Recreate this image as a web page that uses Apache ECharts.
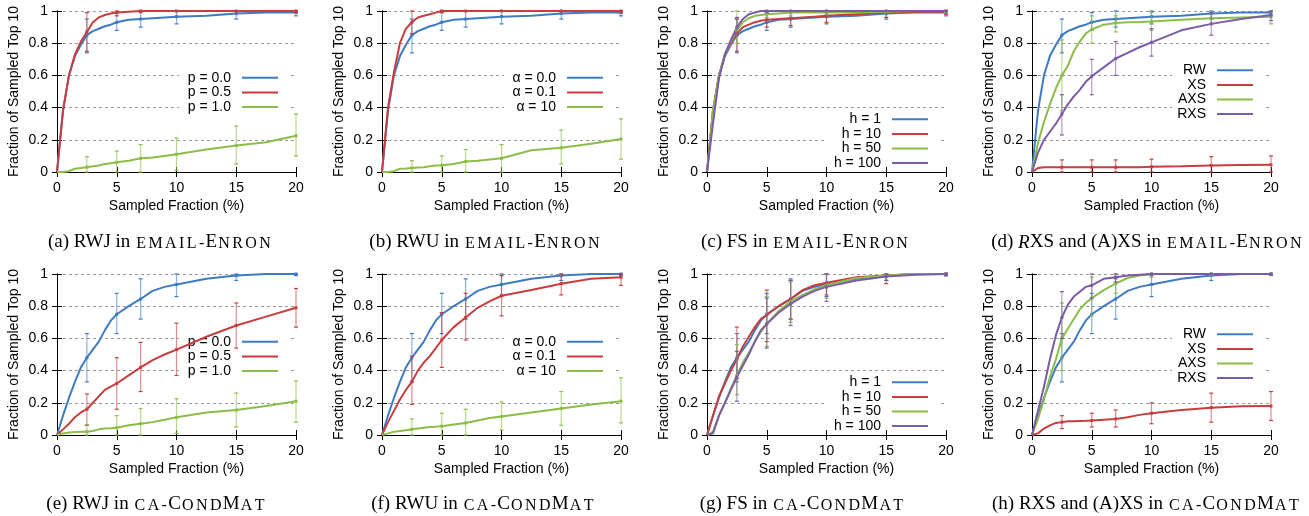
<!DOCTYPE html>
<html>
<head>
<meta charset="utf-8">
<script src="https://cdn.jsdelivr.net/npm/echarts@6/dist/echarts.min.js"></script>
<style>
  html, body { margin: 0; background: #fff; }
  #main { width: 1309px; height: 516px; }
</style>
</head>
<body>
<div id="main"></div>
<script>
// sampled fraction (%) where each curve is measured
const xs = [0, 0.5, 1, 1.5, 2, 2.5, 3, 3.5, 4, 4.5, 5, 6, 7, 8, 9, 10, 12.5, 15, 17.5, 20]
// x positions of the error bars
const errX = [2.5, 5, 7, 10, 15, 20]
const yTicks = [0, 0.2, 0.4, 0.6, 0.8, 1]

// email-Enron
const enronRW = [0, 0.38, 0.6, 0.72, 0.79, 0.85, 0.875, 0.89, 0.905, 0.915, 0.93, 0.945, 0.95, 0.955, 0.96, 0.965, 0.97, 0.985, 0.99, 0.99]
const enronRWErr = [[0.74, 0.95], [0.88, 0.99], [0.9, 1], [0.92, 1], [0.95, 1], [0.97, 1]]
const enronRWJ05 = [0, 0.38, 0.6, 0.73, 0.81, 0.87, 0.93, 0.96, 0.975, 0.985, 0.99, 0.995, 1, 1, 1, 1, 1, 1, 1, 1]
const enronRWJ05Err = [[0.75, 0.99], [0.97, 1], [0.99, 1], [1, 1], [1, 1], [0.99, 1]]
const enronRWJ10 = [0, 0, 0.005, 0.02, 0.025, 0.03, 0.035, 0.04, 0.05, 0.055, 0.06, 0.07, 0.085, 0.09, 0.1, 0.11, 0.14, 0.165, 0.185, 0.225]
const enronRWJ10Err = [[0, 0.095], [0, 0.13], [0, 0.17], [0.01, 0.21], [0.05, 0.285], [0.1, 0.36]]
const enronRWU01 = [0, 0.4, 0.62, 0.8, 0.89, 0.93, 0.96, 0.97, 0.98, 0.99, 1, 1, 1, 1, 1, 1, 1, 1, 1, 1]
const enronRWU01Err = [[0.86, 1], [0.99, 1], [1, 1], [1, 1], [1, 1], [0.99, 1]]
const enronRWU10 = [0, 0, 0.005, 0.02, 0.022, 0.025, 0.028, 0.03, 0.035, 0.04, 0.042, 0.05, 0.065, 0.07, 0.078, 0.085, 0.135, 0.15, 0.175, 0.205]
const enronRWU10Err = [[0, 0.07], [0, 0.1], [0, 0.14], [0, 0.17], [0.05, 0.26], [0.08, 0.33]]
const enronFS10 = [0, 0.38, 0.6, 0.73, 0.8, 0.86, 0.9, 0.915, 0.93, 0.94, 0.945, 0.95, 0.955, 0.96, 0.965, 0.97, 0.98, 0.99, 0.995, 0.995]
const enronFS10Err = [[0.75, 0.95], [0.9, 1], [0.91, 1], [0.93, 1], [0.96, 1], [0.98, 1]]
const enronFS50 = [0, 0.38, 0.6, 0.73, 0.81, 0.88, 0.93, 0.955, 0.97, 0.975, 0.98, 0.985, 0.99, 0.99, 0.99, 0.99, 0.99, 0.995, 1, 1]
const enronFS50Err = [[0.8, 1], [0.96, 1], [0.97, 1], [0.98, 1], [0.99, 1], [0.99, 1]]
const enronFS100 = [0, 0.3, 0.58, 0.73, 0.82, 0.9, 0.95, 0.98, 0.99, 1, 1, 1, 1, 1, 1, 1, 1, 1, 1, 1]
const enronFS100Err = [[0.85, 0.96], [0.99, 1], [1, 1], [1, 1], [1, 1], [1, 1]]
const enronXS = [0, 0.025, 0.03, 0.03, 0.03, 0.03, 0.03, 0.03, 0.03, 0.03, 0.03, 0.03, 0.03, 0.03, 0.03, 0.032, 0.035, 0.04, 0.043, 0.045]
const enronXSErr = [[0, 0.075], [0, 0.075], [0, 0.075], [0, 0.08], [0, 0.095], [0, 0.1]]
const enronAXS = [0, 0.18, 0.31, 0.42, 0.52, 0.6, 0.66, 0.75, 0.81, 0.86, 0.885, 0.915, 0.925, 0.93, 0.932, 0.935, 0.945, 0.955, 0.96, 0.965]
const enronAXSErr = [[0.38, 0.82], [0.8, 0.97], [0.87, 0.97], [0.88, 0.99], [0.92, 0.99], [0.92, 1]]
const enronRXS = [0, 0.12, 0.2, 0.25, 0.3, 0.36, 0.42, 0.47, 0.51, 0.56, 0.595, 0.65, 0.705, 0.74, 0.775, 0.805, 0.88, 0.92, 0.95, 0.975]
const enronRXSErr = [[0.23, 0.48], [0.48, 0.7], [0.6, 0.81], [0.72, 0.89], [0.85, 0.99], [0.94, 1]]

// ca-CondMat
const condRW = [0, 0.12, 0.23, 0.33, 0.42, 0.48, 0.53, 0.58, 0.65, 0.71, 0.75, 0.8, 0.845, 0.895, 0.92, 0.935, 0.97, 0.99, 1, 1]
const condRWErr = [[0.33, 0.63], [0.63, 0.88], [0.72, 0.97], [0.86, 1], [0.96, 1], [0.99, 1]]
const condRWJ05 = [0, 0.035, 0.07, 0.11, 0.14, 0.16, 0.2, 0.24, 0.28, 0.3, 0.32, 0.37, 0.42, 0.465, 0.5, 0.53, 0.61, 0.68, 0.735, 0.79]
const condRWJ05Err = [[0.06, 0.255], [0.16, 0.48], [0.27, 0.575], [0.37, 0.695], [0.54, 0.82], [0.67, 0.91]]
const condRWJ10 = [0, 0.01, 0.015, 0.018, 0.02, 0.02, 0.025, 0.035, 0.04, 0.042, 0.045, 0.06, 0.07, 0.08, 0.095, 0.11, 0.14, 0.155, 0.18, 0.21]
const condRWJ10Err = [[0, 0.065], [0, 0.12], [0, 0.165], [0.01, 0.225], [0.05, 0.26], [0.08, 0.335]]
const condRWU01 = [0, 0.08, 0.15, 0.22, 0.28, 0.33, 0.4, 0.45, 0.49, 0.54, 0.59, 0.67, 0.73, 0.79, 0.83, 0.865, 0.9, 0.94, 0.97, 0.98]
const condRWU01Err = [[0.19, 0.49], [0.42, 0.76], [0.59, 0.88], [0.74, 0.99], [0.87, 1], [0.93, 1]]
const condRWU10 = [0, 0.01, 0.02, 0.025, 0.03, 0.035, 0.04, 0.045, 0.05, 0.052, 0.055, 0.065, 0.075, 0.09, 0.105, 0.115, 0.14, 0.165, 0.19, 0.21]
const condRWU10Err = [[0, 0.1], [0, 0.135], [0, 0.16], [0.03, 0.205], [0.06, 0.27], [0.075, 0.355]]
const condFS10 = [0, 0.12, 0.24, 0.32, 0.4, 0.47, 0.55, 0.61, 0.67, 0.72, 0.745, 0.8, 0.845, 0.9, 0.93, 0.945, 0.98, 0.99, 1, 1]
const condFS10Err = [[0.35, 0.67], [0.58, 0.9], [0.72, 0.96], [0.87, 1], [0.94, 1], [0.99, 1]]
const condFS50 = [0, 0.02, 0.12, 0.2, 0.29, 0.37, 0.45, 0.51, 0.58, 0.64, 0.69, 0.77, 0.83, 0.87, 0.905, 0.93, 0.975, 0.99, 1, 1]
const condFS50Err = [[0.25, 0.56], [0.55, 0.86], [0.7, 0.95], [0.85, 1], [0.96, 1], [0.99, 1]]
const condFS100 = [0, 0.01, 0.12, 0.2, 0.28, 0.36, 0.43, 0.5, 0.58, 0.65, 0.69, 0.76, 0.815, 0.86, 0.895, 0.92, 0.96, 0.985, 0.995, 1]
const condFS100Err = [[0.21, 0.52], [0.54, 0.85], [0.68, 0.96], [0.83, 1], [0.96, 1], [0.99, 1]]
const condXS = [0, 0.01, 0.04, 0.06, 0.075, 0.08, 0.085, 0.085, 0.087, 0.088, 0.09, 0.095, 0.1, 0.11, 0.125, 0.135, 0.155, 0.17, 0.178, 0.18]
const condXSErr = [[0.04, 0.12], [0.05, 0.135], [0.05, 0.155], [0.07, 0.2], [0.08, 0.26], [0.09, 0.27]]
const condAXS = [0, 0.1, 0.22, 0.36, 0.47, 0.6, 0.66, 0.72, 0.78, 0.82, 0.85, 0.9, 0.94, 0.975, 0.99, 1, 1, 1, 1, 1]
const condAXSErr = [[0.4, 0.82], [0.74, 0.98], [0.88, 1], [0.98, 1], [0.99, 1], [1, 1]]
const condRXS = [0, 0.15, 0.3, 0.47, 0.62, 0.73, 0.81, 0.86, 0.89, 0.92, 0.93, 0.97, 0.98, 0.99, 0.995, 1, 1, 1, 1, 1]
const condRXSErr = [[0.6, 0.89], [0.85, 1], [0.95, 1], [0.99, 1], [1, 1], [1, 1]]

const BLUE = '#3f7bc3'
const RED = '#c83d3d'
const GREEN = '#8cbd48'
const PURPLE = '#7b5ba7'
const SANS = 'Liberation Sans'
const SERIF = 'Liberation Serif'

// small caps: every letter its own rich token so it gets a little tracking
const sc = s => s.split('').map(ch => `{sc|${ch}}`).join('')
const ENRON = sc('EMAIL-') + 'E' + sc('NRON')
const CONDMAT = sc('CA-') + 'C' + sc('OND') + 'M' + sc('AT')

const panels = [
  { left: 57, top: 11, capX: 155, capTop: 228, legTop: 78.5, legW: 48,
    caption: '(a) RWJ in ' + ENRON,
    lines: [['p = 0.0', enronRW, enronRWErr, BLUE], ['p = 0.5', enronRWJ05, enronRWJ05Err, RED], ['p = 1.0', enronRWJ10, enronRWJ10Err, GREEN]] },
  { left: 382, top: 11, capX: 480, capTop: 228, legTop: 78.5, legW: 48,
    caption: '(b) RWU in ' + ENRON,
    lines: [['α = 0.0', enronRW, enronRWErr, BLUE], ['α = 0.1', enronRWU01, enronRWU01Err, RED], ['α = 10', enronRWU10, enronRWU10Err, GREEN]] },
  { left: 707, top: 11, capX: 800, capTop: 228, legTop: 120, legW: 52,
    caption: '(c) FS in ' + ENRON,
    lines: [['h = 1', enronRW, enronRWErr, BLUE], ['h = 10', enronFS10, enronFS10Err, RED], ['h = 50', enronFS50, enronFS50Err, GREEN], ['h = 100', enronFS100, enronFS100Err, PURPLE]] },
  { left: 1032, top: 11, capX: 1142, capTop: 228, legTop: 71, legW: 30,
    caption: '(d) {it|R}XS and (A)XS in ' + ENRON,
    lines: [['RW', enronRW, enronRWErr, BLUE], ['XS', enronXS, enronXSErr, RED], ['AXS', enronAXS, enronAXSErr, GREEN], ['RXS', enronRXS, enronRXSErr, PURPLE]] },
  { left: 57, top: 274, capX: 151, capTop: 490, legTop: 342.5, legW: 48,
    caption: '(e) RWJ in ' + CONDMAT,
    lines: [['p = 0.0', condRW, condRWErr, BLUE], ['p = 0.5', condRWJ05, condRWJ05Err, RED], ['p = 1.0', condRWJ10, condRWJ10Err, GREEN]] },
  { left: 382, top: 274, capX: 478, capTop: 490, legTop: 342.5, legW: 48,
    caption: '(f) RWU in ' + CONDMAT,
    lines: [['α = 0.0', condRW, condRWErr, BLUE], ['α = 0.1', condRWU01, condRWU01Err, RED], ['α = 10', condRWU10, condRWU10Err, GREEN]] },
  { left: 707, top: 274, capX: 797, capTop: 490, legTop: 383, legW: 52,
    caption: '(g) FS in ' + CONDMAT,
    lines: [['h = 1', condRW, condRWErr, BLUE], ['h = 10', condFS10, condFS10Err, RED], ['h = 50', condFS50, condFS50Err, GREEN], ['h = 100', condFS100, condFS100Err, PURPLE]] },
  { left: 1032, top: 274, capX: 1141, capTop: 490, legTop: 335, legW: 30,
    caption: '(h) RXS and (A)XS in ' + CONDMAT,
    lines: [['RW', condRW, condRWErr, BLUE], ['XS', condXS, condXSErr, RED], ['AXS', condAXS, condAXSErr, GREEN], ['RXS', condRXS, condRXSErr, PURPLE]] }
]

const PW = 239
const PH = 161

const renderErr = (params, api) => {
  const x = api.value(0)
  const lo = api.coord([x, api.value(1)])
  const hi = api.coord([x, api.value(2)])
  const mid = api.coord([x, api.value(3)])
  const c = api.visual('color')
  const cap = 2
  return {
    type: 'group',
    children: [
      { type: 'line', shape: { x1: lo[0], y1: lo[1], x2: hi[0], y2: hi[1] }, style: { stroke: c, lineWidth: 1.2, opacity: 0.6 } },
      { type: 'line', shape: { x1: lo[0] - cap, y1: lo[1], x2: lo[0] + cap, y2: lo[1] }, style: { stroke: c, lineWidth: 1.2 } },
      { type: 'line', shape: { x1: hi[0] - cap, y1: hi[1], x2: hi[0] + cap, y2: hi[1] }, style: { stroke: c, lineWidth: 1.2 } },
      { type: 'rect', shape: { x: mid[0] - 1.5, y: mid[1] - 1.5, width: 3, height: 3 }, style: { fill: c } }
    ]
  }
}

const axisText = { fontFamily: SANS, fontSize: 14, color: '#000' }
const option = { animation: false, grid: [], xAxis: [], yAxis: [], series: [], legend: [], title: [] }

panels.forEach((p, i) => {
  option.grid.push({ left: p.left, top: p.top, width: PW, height: PH })
  const tick = { show: true, inside: true, length: 5, lineStyle: { color: '#000' } }
  const line = { show: true, lineStyle: { color: '#000', width: 1 } }
  option.xAxis.push({
    gridIndex: i, type: 'value', min: 0, max: 20, interval: 5, position: 'bottom', z: 1,
    axisLine: line, axisTick: tick, splitLine: { show: false },
    axisLabel: { ...axisText, margin: 9 },
    name: 'Sampled Fraction (%)', nameLocation: 'middle', nameGap: 27, nameTextStyle: axisText
  })
  option.xAxis.push({
    gridIndex: i, type: 'value', min: 0, max: 20, interval: 5, position: 'top', z: 1,
    axisLine: line, axisTick: tick, axisLabel: { show: false }, splitLine: { show: false }
  })
  option.yAxis.push({
    gridIndex: i, type: 'value', min: 0, max: 1, interval: 0.2, position: 'left',
    axisLine: line, axisTick: tick,
    axisLabel: { ...axisText, margin: 9, formatter: v => String(yTicks.find(t => Math.abs(t - v) < 1e-6) ?? v) },
    splitLine: { show: true, lineStyle: { color: '#999', width: 1, type: [3, 3] } },
    name: 'Fraction of Sampled Top 10', nameLocation: 'middle', nameGap: 36, nameTextStyle: axisText
  })
  option.yAxis.push({
    gridIndex: i, type: 'value', min: 0, max: 1, interval: 0.2, position: 'right', z: 1,
    axisLine: line, axisTick: tick, axisLabel: { show: false }, splitLine: { show: false }
  })

  p.lines.forEach(([name, ys, err, color]) => {
    option.series.push({
      type: 'line', name, xAxisIndex: 2 * i, yAxisIndex: 2 * i, z: 2,
      data: xs.map((x, k) => [x, ys[k]]),
      symbol: 'none', lineStyle: { width: 2, color }, itemStyle: { color }
    })
    option.series.push({
      type: 'custom', name: name + ' err', xAxisIndex: 2 * i, yAxisIndex: 2 * i, z: 3, silent: true,
      itemStyle: { color },
      data: errX.map((x, k) => [x, err[k][0], err[k][1], ys[xs.indexOf(x)]]),
      renderItem: renderErr
    })
  })

  option.legend.push({
    data: p.lines.map(l => l[0]),
    orient: 'vertical', align: 'right', selectedMode: false, z: 1,
    right: 1309 - (p.left + 233), top: p.legTop - 8,
    icon: 'rect', itemWidth: 36, itemHeight: 2, itemGap: 0,
    backgroundColor: '#fff', padding: [0, 12, 0, 4],
    textStyle: { fontFamily: SANS, fontSize: 14, color: '#000', width: p.legW, align: 'right', lineHeight: 14.6, padding: [0, 6, 0, 0] }
  })

  option.title.push({
    text: p.caption, left: p.capX, top: p.capTop, textAlign: 'center',
    textStyle: {
      fontFamily: SERIF, fontSize: 19, fontWeight: 'normal', color: '#000',
      rich: {
        sc: { fontFamily: SERIF, fontSize: 16, color: '#000', verticalAlign: 'bottom', padding: [0, 1.2, 0, 1.2] },
        it: { fontFamily: SERIF, fontSize: 19, fontStyle: 'italic', color: '#000' }
      }
    }
  })
})

const chart = echarts.init(document.getElementById('main'))
chart.setOption(option)
window.addEventListener('resize', () => chart.resize())
</script>
</body>
</html>
